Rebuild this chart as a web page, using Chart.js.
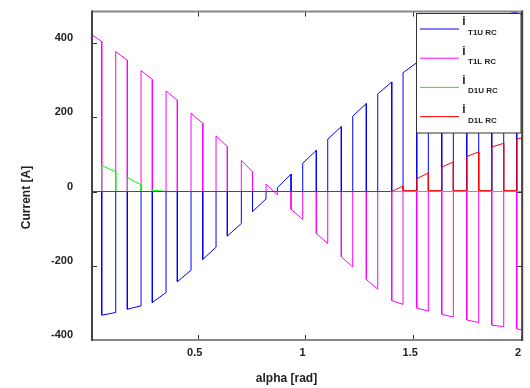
<!DOCTYPE html>
<html><head><meta charset="utf-8">
<script src="https://cdn.jsdelivr.net/npm/chart.js@4"></script>
<style>html,body{margin:0;padding:0;background:#fff}canvas{display:block}</style>
</head><body>
<canvas id="c" width="530" height="388"></canvas>
<script>
// ---- axis ranges and ticks ----
const xMin = 0.0096, xMax = 2.0056;
const yMin = -400, yMax = 485;
const xTicks = [0.5, 1, 1.5, 2];
const yTicks = [-400, -200, 0, 200, 400];

// ---- switching instants alpha [rad] (first/last = plot edges) ----
const switchTimes = [0.0096, 0.0547, 0.1197, 0.1735, 0.2371, 0.2895, 0.3531, 0.4055,
  0.4691, 0.5234, 0.5851, 0.6375, 0.7025, 0.7544, 0.8171, 0.8695, 0.9331, 0.9873,
  1.0504, 1.1033, 1.1664, 1.2193, 1.2824, 1.3353, 1.4003, 1.4527, 1.5163, 1.5701,
  1.6323, 1.6861, 1.7483, 1.8039, 1.8643, 1.9199, 1.9803, 2.0056];

// ---- series: pulse start / end currents [A] ----
// T1U: pulses on odd intervals
const t1uStart = [-333, -317, -299, -243, -183, -120, -54, 10, 76, 141, 203, 263, 320, 372, 418, 452, 476];
const t1uEnd   = [-326, -308, -272, -212, -150, -86, -20, 47, 111, 175, 237, 295, 347, 396, 440, 468, 484];
// T1L: pulses on even intervals
const t1lStart = [422, 377, 326, 271, 211, 150, 84, 20, -48, -113, -176, -237, -294, -314, -331, -346, -360, -370];
const t1lEnd   = [404, 354, 302, 246, 184, 121, 53, -9, -75, -140, -203, -263, -304, -322, -338, -353, -364, -373];
// D1U: first odd intervals
const d1uStart = [70, 38, 4];
const d1uEnd   = [53, 18, 0];
// D1L: even intervals from the 13th on; small residual between its pulses
const d1lStart = [0, 34.5, 66, 94, 120, 141.5];
const d1lEnd   = [15, 50, 79.5, 107, 130, 145];
const d1lRest = 2.5;

const seriesNames = ['T1U RC', 'T1L RC', 'D1U RC', 'D1L RC'];
const seriesColors = ['#0000ff', '#ff00ff', '#00ff00', '#ff0000'];

function buildSeries(firstIdx, offset, starts, ends, rest) {
  const r = rest || 0;
  const pts = [];
  if (switchTimes[firstIdx + 2 * offset] > xMin) pts.push({x: xMin, y: 0});
  starts.forEach((s, k) => {
    const i = firstIdx + 2 * (k + offset);
    const a = switchTimes[i], b = switchTimes[i + 1];
    if (a > xMin) pts.push({x: a, y: k === 0 ? 0 : r});
    pts.push({x: a, y: s}, {x: b, y: ends[k]}, {x: b, y: r});
  });
  if (pts[pts.length - 1].x < xMax) pts.push({x: xMax, y: r});
  return pts;
}

const seriesData = [
  buildSeries(1, 0, t1uStart, t1uEnd),
  buildSeries(0, 0, t1lStart, t1lEnd),
  buildSeries(1, 0, d1uStart, d1uEnd),
  buildSeries(0, 12, d1lStart, d1lEnd, d1lRest)
];
const drawOrder = [3, 2, 1, 0];

const FONT = 'Liberation Sans, Arial, Helvetica, sans-serif';

const boxPlugin = {
  id: 'box',
  afterDatasetsDraw(chart) {
    const ctx = chart.ctx, a = chart.chartArea;
    const xs = chart.scales.x, ys = chart.scales.y;
    ctx.save();
    ctx.strokeStyle = '#333'; ctx.lineWidth = 1;
    ctx.beginPath();
    xTicks.forEach(v => {
      const p = Math.round(xs.getPixelForValue(v)) + 0.5;
      ctx.moveTo(p, a.bottom); ctx.lineTo(p, a.bottom - 5);
      ctx.moveTo(p, a.top); ctx.lineTo(p, a.top + 5);
    });
    yTicks.forEach(v => {
      const p = Math.round(ys.getPixelForValue(v)) + 0.5;
      ctx.moveTo(a.left, p); ctx.lineTo(a.left + 5, p);
      ctx.moveTo(a.right, p); ctx.lineTo(a.right - 5, p);
    });
    ctx.stroke();
    ctx.lineWidth = 2;
    ctx.strokeStyle = '#888';
    ctx.beginPath();
    ctx.moveTo(a.left, a.top); ctx.lineTo(a.right, a.top);
    ctx.moveTo(a.left, a.bottom); ctx.lineTo(a.right, a.bottom);
    ctx.stroke();
    ctx.strokeStyle = '#444';
    ctx.beginPath();
    ctx.moveTo(a.left, a.top - 1); ctx.lineTo(a.left, a.bottom + 1);
    ctx.moveTo(a.right, a.top - 1); ctx.lineTo(a.right, a.bottom + 1);
    ctx.stroke();
    // axis titles
    ctx.fillStyle = '#222';
    ctx.font = 'bold 12px ' + FONT;
    ctx.textAlign = 'center'; ctx.textBaseline = 'middle';
    ctx.fillText('alpha [rad]', 286.5, 378.5);
    ctx.save();
    ctx.translate(26.5, 197.5); ctx.rotate(-Math.PI / 2);
    ctx.fillText('Current [A]', 0, 0);
    ctx.restore();
    // legend
    const lx = 416.5, ly = 13.5, lw = 104.5, lh = 119.5;
    ctx.fillStyle = '#fff';
    ctx.fillRect(lx, ly, lw, lh);
    ctx.strokeStyle = '#333'; ctx.lineWidth = 1;
    ctx.strokeRect(lx, ly, lw, lh);
    seriesNames.forEach((name, i) => {
      const y = 29 + 29.2 * i;
      ctx.strokeStyle = seriesColors[i]; ctx.lineWidth = 1;
      ctx.beginPath(); ctx.moveTo(420, y); ctx.lineTo(459, y); ctx.stroke();
      ctx.fillStyle = '#222';
      ctx.textAlign = 'center'; ctx.textBaseline = 'middle';
      ctx.font = 'bold 12px ' + FONT;
      ctx.fillText('i', 464, y - 7);
      ctx.textAlign = 'left';
      ctx.font = 'bold 8px ' + FONT;
      ctx.fillText(name, 468, y + 3.7);
    });
    ctx.restore();
  }
};

new Chart(document.getElementById('c'), {
  type: 'scatter',
  data: {
    datasets: seriesData.map((d, i) => ({
      label: 'i ' + seriesNames[i],
      data: d,
      showLine: true,
      borderColor: seriesColors[i],
      backgroundColor: seriesColors[i],
      borderWidth: 1,
      pointRadius: 0,
      tension: 0,
      fill: false,
      order: drawOrder[i]
    }))
  },
  options: {
    responsive: false,
    animation: false,
    devicePixelRatio: 1,
    layout: {padding: {top: 11.5, right: 7.8, left: 0, bottom: 0}},
    plugins: {legend: {display: false}, tooltip: {enabled: false}},
    scales: {
      x: {
        type: 'linear', min: xMin, max: xMax,
        afterFit: s => { s.height = 48; },
        afterBuildTicks: s => { s.ticks = xTicks.map(v => ({value: v})); },
        grid: {display: false, drawTicks: true, tickLength: 6},
        border: {display: false},
        ticks: {color: '#222', padding: 0, labelOffset: -3, maxRotation: 0, autoSkip: false,
                font: {family: FONT, size: 11, weight: 'bold'}, callback: v => String(v)}
      },
      y: {
        type: 'linear', min: yMin, max: yMax,
        afterFit: s => { s.width = 92; },
        afterBuildTicks: s => { s.ticks = yTicks.map(v => ({value: v})); },
        grid: {display: false, drawTicks: true, tickLength: 19},
        border: {display: false},
        ticks: {color: '#222', padding: 0, labelOffset: -5, autoSkip: false,
                font: {family: FONT, size: 11, weight: 'bold'}, callback: v => String(v)}
      }
    }
  },
  plugins: [boxPlugin]
});
</script>
</body></html>
